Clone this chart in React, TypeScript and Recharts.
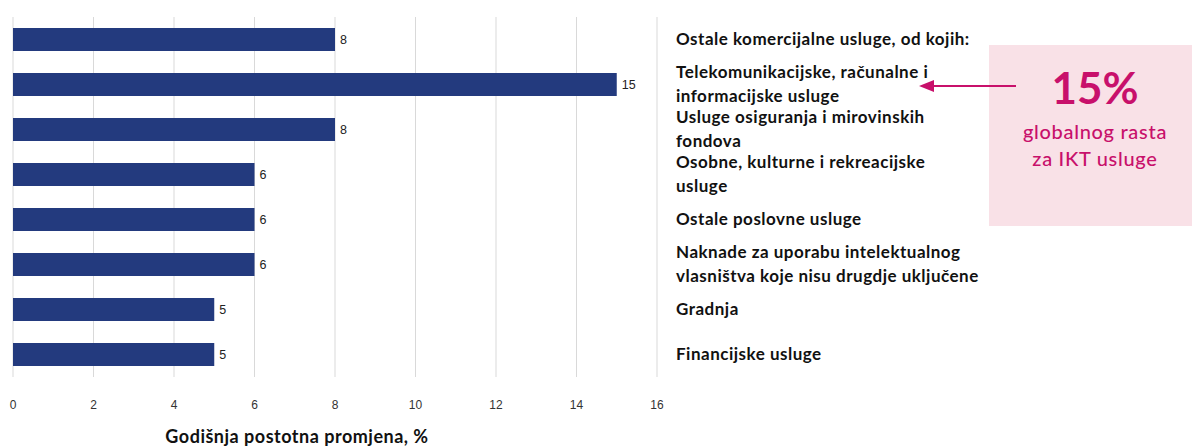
import React from 'react';

import { Bar, BarChart, CartesianGrid, Label, LabelList, XAxis, YAxis } from 'recharts';

const categoryLines = [
	['Ostale komercijalne usluge, od kojih:'],
	['Telekomunikacijske, računalne i', 'informacijske usluge'],
	['Usluge osiguranja i mirovinskih', 'fondova'],
	['Osobne, kulturne i rekreacijske', 'usluge'],
	['Ostale poslovne usluge'],
	['Naknade za uporabu intelektualnog', 'vlasništva koje nisu drugdje uključene'],
	['Gradnja'],
	['Financijske usluge'],
];

const values = [8, 15, 8, 6, 6, 6, 5, 5];

const xTicks = [0, 2, 4, 6, 8, 10, 12, 14, 16];

const axisTitle = 'Godišnja postotna promjena, %';
const calloutValue = '15%';
const calloutLines = ['globalnog rasta', 'za IKT usluge'];

const data = categoryLines.map((lines, i) => ({
	name: lines.join(' '),
	Value: values[i],
}));

const BAR_COLOR = '#233a7e';
const PINK = '#c8106b';

const CategoryTick = (props: any) => {
	const { x, y, payload } = props;
	const idx = data.findIndex((d) => d.name === payload.value);
	const lines = categoryLines[idx] || [payload.value];
	const n = lines.length;
	return (
		<text
			x={x}
			y={y}
			textAnchor="start"
			fill="#111"
			style={{ fontFamily: 'Lato', fontSize: 17, fontWeight: 700, letterSpacing: 0.5 }}
		>
			{lines.map((line, i) => (
				<tspan key={i} x={x} y={y + (i - (n - 1) / 2) * 24} dy="0.35em">
					{line}
				</tspan>
			))}
		</text>
	);
};

const App = () => {
	return (
		<div
			style={{
				position: 'absolute',
				left: 0,
				top: 0,
				width: 1192,
				height: 447,
				background: '#fff',
			}}
		>
			<div
				style={{
					position: 'absolute',
					left: 989,
					top: 45,
					width: 203,
					height: 181,
					background: '#f9e1e7',
				}}
			/>
			<BarChart
				width={1192}
				height={447}
				data={data}
				layout="vertical"
				margin={{ top: 17, right: 195, left: 13, bottom: 0 }}
				style={{ position: 'absolute', left: 0, top: 0 }}
			>
				<CartesianGrid stroke="#d9d9d9" horizontal={false} />
				<XAxis
					type="number"
					domain={[0, 16]}
					ticks={xTicks}
					axisLine={false}
					tickLine={false}
					tickMargin={17}
					height={70}
					tick={{ fill: '#333', fontSize: 12, fontFamily: 'Liberation Sans' }}
				>
					<Label
						value={axisTitle}
						position="insideBottom"
						offset={4}
						dx={-38}
						style={{
							fontFamily: 'Lato',
							fontSize: 18,
							fontWeight: 700,
							letterSpacing: 0.5,
							fill: '#111',
						}}
					/>
				</XAxis>
				<YAxis
					type="category"
					dataKey="name"
					orientation="right"
					width={340}
					axisLine={false}
					tickLine={false}
					tickMargin={13}
					interval={0}
					tick={<CategoryTick />}
				/>
				<Bar dataKey="Value" fill={BAR_COLOR} barSize={23} isAnimationActive={false}>
					<LabelList
						dataKey="Value"
						position="right"
						offset={5}
						style={{ fill: '#222', fontSize: 12.5, fontFamily: 'Liberation Sans' }}
					/>
				</Bar>
			</BarChart>
			<svg
				width={1192}
				height={447}
				style={{ position: 'absolute', left: 0, top: 0, pointerEvents: 'none' }}
			>
				<line x1={1016} y1={86} x2={930} y2={86} stroke={PINK} strokeWidth={2} />
				<polygon points="919,86 934,80 934,92" fill={PINK} />
				<text
					x={1095}
					y={104}
					textAnchor="middle"
					fill={PINK}
					style={{ fontFamily: 'Lato', fontSize: 44, fontWeight: 700 }}
				>
					{calloutValue}
				</text>
				{calloutLines.map((line, i) => (
					<text
						key={i}
						x={1095}
						y={139 + i * 27}
						textAnchor="middle"
						fill={PINK}
						style={{ fontFamily: 'Lato', fontSize: 20, fontWeight: 500, letterSpacing: 0.7 }}
					>
						{line}
					</text>
				))}
			</svg>
		</div>
	);
};

export default App;
